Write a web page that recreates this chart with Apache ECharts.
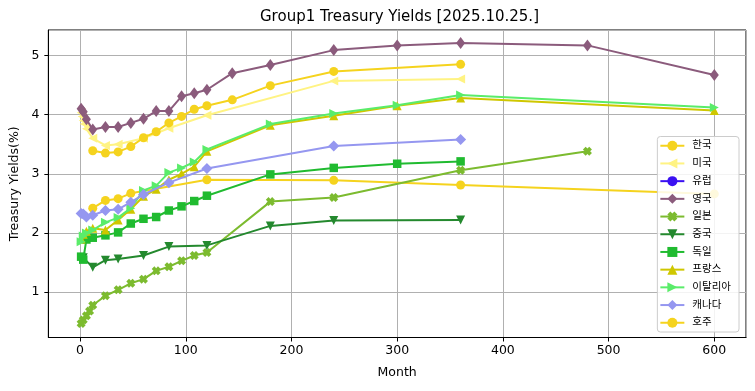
<!DOCTYPE html>
<html><head><meta charset="utf-8">
<script src="https://cdn.jsdelivr.net/npm/echarts@6/dist/echarts.min.js"></script>
<style>html,body{margin:0;padding:0;background:#fff}#c{width:755px;height:391px}</style>
</head><body><div id="c"></div>
<script>
const titleText = 'Group1 Treasury Yields [2025.10.25.]';
const countryNames = ['한국','미국','유럽','영국','일본','중국','독일','프랑스','이탈리아','캐나다','호주'];

const koreaMonths = [12, 24, 36, 48, 120, 240, 360, 600];
const koreaYields = [2.42, 2.55, 2.58, 2.67, 2.90, 2.89, 2.81, 2.66];

const usMonths = [1, 2, 3, 4, 6, 12, 24, 36, 60, 84, 120, 240, 360];
const usYields = [4.03, 3.97, 3.90, 3.84, 3.76, 3.60, 3.48, 3.50, 3.60, 3.77, 3.99, 4.57, 4.60];

const europeMonths = [];
const europeYields = [];

const ukMonths = [1, 3, 6, 12, 24, 36, 48, 60, 72, 84, 96, 108, 120, 144, 180, 240, 300, 360, 480, 600];
const ukYields = [4.10, 4.05, 3.92, 3.75, 3.79, 3.79, 3.86, 3.93, 4.06, 4.06, 4.31, 4.36, 4.42, 4.70, 4.84, 5.09, 5.17, 5.21, 5.17, 4.67];

const japanMonths = [1, 3, 6, 9, 12, 24, 36, 48, 60, 72, 84, 96, 108, 120, 180, 240, 360, 480];
const japanYields = [0.47, 0.53, 0.60, 0.68, 0.78, 0.94, 1.04, 1.15, 1.22, 1.36, 1.43, 1.53, 1.62, 1.67, 2.53, 2.60, 3.06, 3.38];

const chinaMonths = [3, 12, 24, 36, 60, 84, 120, 180, 240, 360];
const chinaYields = [1.58, 1.42, 1.54, 1.56, 1.62, 1.77, 1.79, 2.12, 2.21, 2.22];

const germanyMonths = [1, 3, 6, 12, 24, 36, 48, 60, 72, 84, 96, 108, 120, 180, 240, 300, 360];
const germanyYields = [1.60, 1.55, 1.89, 1.92, 1.96, 2.01, 2.16, 2.24, 2.27, 2.38, 2.45, 2.54, 2.63, 2.99, 3.10, 3.17, 3.21];

const franceMonths = [1, 3, 6, 12, 24, 36, 48, 60, 72, 84, 96, 108, 120, 180, 240, 300, 360, 600];
const franceYields = [1.90, 1.98, 2.03, 2.08, 2.05, 2.22, 2.40, 2.62, 2.74, 2.90, 3.00, 3.12, 3.38, 3.82, 3.98, 4.15, 4.28, 4.07];

const italyMonths = [1, 3, 6, 12, 24, 36, 48, 60, 72, 84, 96, 108, 120, 180, 240, 300, 360, 600];
const italyYields = [1.85, 1.95, 2.00, 2.05, 2.18, 2.26, 2.42, 2.72, 2.80, 3.02, 3.10, 3.20, 3.41, 3.84, 4.02, 4.16, 4.33, 4.12];

const canadaMonths = [1, 3, 6, 12, 24, 36, 48, 60, 84, 120, 240, 360];
const canadaYields = [2.33, 2.32, 2.27, 2.30, 2.38, 2.40, 2.52, 2.65, 2.85, 3.09, 3.47, 3.58];

const australiaMonths = [12, 24, 36, 48, 60, 72, 84, 96, 108, 120, 144, 180, 240, 360];
const australiaYields = [3.39, 3.35, 3.37, 3.46, 3.61, 3.71, 3.86, 3.97, 4.09, 4.15, 4.25, 4.49, 4.73, 4.85];

const xTicks = [0, 100, 200, 300, 400, 500, 600];
const yTicks = [1, 2, 3, 4, 5];

const FONT = '"DejaVu Sans", "Noto Sans CJK KR", sans-serif';
const X_PATH = 'path://M3,0 L5,2 L7,0 L10,3 L8,5 L10,7 L7,10 L5,8 L3,10 L0,7 L2,5 L0,3 Z';

const seriesDefs = [
  {months: koreaMonths, yields: koreaYields, color: '#f5d31e', symbol: 'circle', size: 9, rot: 0},
  {months: usMonths, yields: usYields, color: '#fff383', symbol: 'triangle', size: 9, rot: 90},
  {months: europeMonths, yields: europeYields, color: '#3a10f2', symbol: 'circle', size: 9, rot: 0},
  {months: ukMonths, yields: ukYields, color: '#8b5b7c', symbol: 'diamond', size: [9, 12], rot: 0},
  {months: japanMonths, yields: japanYields, color: '#7cbb2f', symbol: X_PATH, size: 9, rot: 0},
  {months: chinaMonths, yields: chinaYields, color: '#24892e', symbol: 'triangle', size: 9, rot: 180},
  {months: germanyMonths, yields: germanyYields, color: '#20bb30', symbol: 'rect', size: 8.5, rot: 0},
  {months: franceMonths, yields: franceYields, color: '#cfc700', symbol: 'triangle', size: 9, rot: 0},
  {months: italyMonths, yields: italyYields, color: '#5aec6a', symbol: 'triangle', size: 9, rot: -90},
  {months: canadaMonths, yields: canadaYields, color: '#9597f0', symbol: 'diamond', size: [11, 11], rot: 0},
  {months: australiaMonths, yields: australiaYields, color: '#f5d31e', symbol: 'circle', size: 9, rot: 0}
];

const series = seriesDefs.map((d, i) => ({
  name: countryNames[i],
  type: 'line',
  data: d.months.map((m, k) => [m, d.yields[k]]),
  symbol: d.symbol,
  symbolSize: d.size,
  symbolRotate: d.rot,
  showAllSymbol: true,
  color: d.color,
  lineStyle: {width: 2, color: d.color},
  itemStyle: {color: d.color, opacity: 1},
  emphasis: {disabled: true},
  animation: false,
  z: 2 + i
}));

const chart = echarts.init(document.getElementById('c'), null, {renderer: 'canvas'});
chart.setOption({
  animation: false,
  backgroundColor: '#fff',
  textStyle: {fontFamily: FONT},
  title: {
    text: titleText, left: 255, top: 5,
    textStyle: {fontFamily: FONT, fontSize: 15, fontWeight: 'normal', color: '#000'}
  },
  grid: {left: 48, right: 9, top: 30, bottom: 53.5, show: true, borderColor: '#000', borderWidth: 1, backgroundColor: 'transparent'},
  xAxis: {
    type: 'value', min: -30, max: 630, splitNumber: 6,
    name: 'Month', nameLocation: 'middle', nameGap: 29,
    nameTextStyle: {fontFamily: FONT, fontSize: 12.5, color: '#000'},
    axisLine: {show: true, onZero: false, lineStyle: {color: '#000', width: 1}},
    axisTick: {show: true, length: 4, lineStyle: {color: '#000'}},
    axisLabel: {fontFamily: FONT, fontSize: 12.5, color: '#000', margin: 7, showMinLabel: false, showMaxLabel: false,
      formatter: v => xTicks.indexOf(v) >= 0 ? String(v) : ''},
    splitLine: {show: true, lineStyle: {color: '#b0b0b0', width: 1}}
  },
  yAxis: {
    type: 'value', min: 0.234, max: 5.43, splitNumber: 5,
    name: 'Treasury Yields(%)', nameLocation: 'middle', nameGap: 25,
    nameTextStyle: {fontFamily: FONT, fontSize: 12.5, color: '#000'},
    axisLine: {show: true, onZero: false, lineStyle: {color: '#000', width: 1}},
    axisTick: {show: true, length: 4, lineStyle: {color: '#000'}},
    axisLabel: {fontFamily: FONT, fontSize: 12.5, color: '#000', margin: 9, showMinLabel: false, showMaxLabel: false,
      formatter: v => yTicks.indexOf(v) >= 0 ? String(v) : ''},
    splitLine: {show: true, lineStyle: {color: '#b0b0b0', width: 1}}
  },
  legend: {
    orient: 'vertical', right: 16, bottom: 59,
    data: countryNames.map(n => ({name: n})),
    itemWidth: 24, itemHeight: 12.5, itemGap: 7.2,
    padding: [4, 8, 4, 2],
    backgroundColor: 'rgba(255,255,255,0.85)', borderColor: '#cccccc', borderWidth: 1, borderRadius: 3,
    textStyle: {fontFamily: FONT, fontSize: 10.5, color: '#000', padding: [0, 0, 0, 3]},
    selectedMode: false
  },
  series: series
});
</script></body></html>
